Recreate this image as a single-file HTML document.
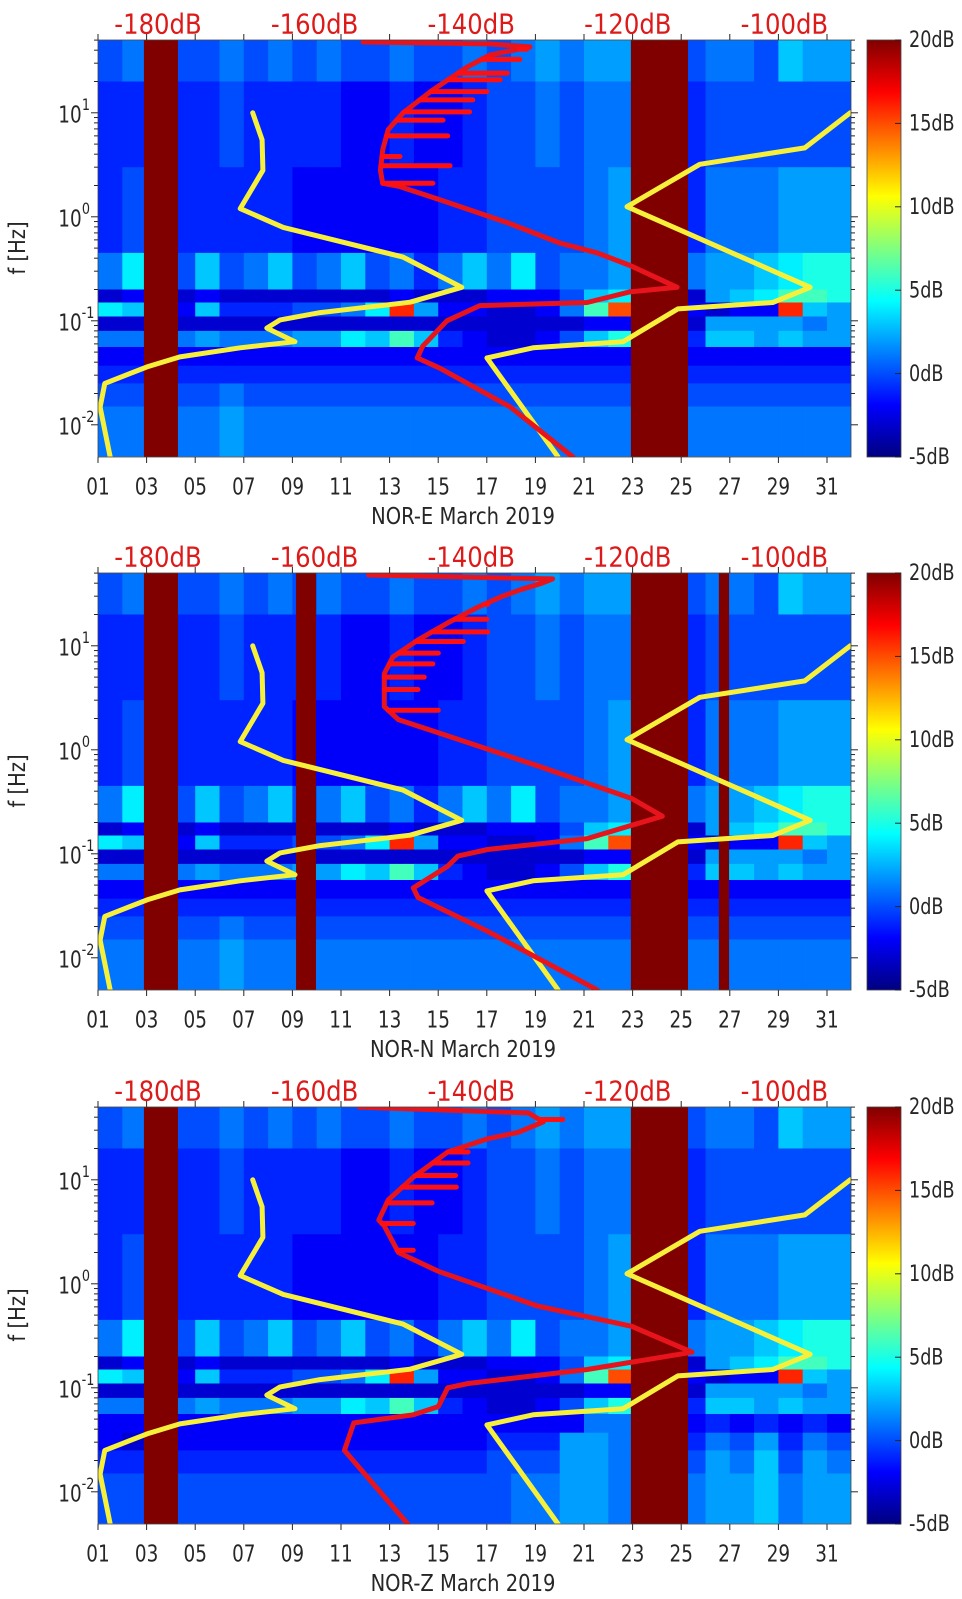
<!DOCTYPE html>
<html><head><meta charset="utf-8">
<style>
html,body{margin:0;padding:0;background:#fff;}
svg{display:block;}
text{font-family:"DejaVu Sans","Liberation Sans",sans-serif;}
</style></head>
<body>
<svg id="fig" width="962" height="1599" viewBox="0 0 962 1599" xmlns="http://www.w3.org/2000/svg">
<defs>
<linearGradient id="jet" x1="0" y1="1" x2="0" y2="0">
<stop offset="0" stop-color="#000080"/><stop offset="0.125" stop-color="#0000ff"/>
<stop offset="0.375" stop-color="#00ffff"/><stop offset="0.625" stop-color="#ffff00"/>
<stop offset="0.875" stop-color="#ff0000"/><stop offset="1" stop-color="#800000"/>
</linearGradient>
</defs>
</svg>
<script>
// ---------- data ----------
const panelNames = ["NOR-E March 2019","NOR-N March 2019","NOR-Z March 2019"];
const dayTicks = ["01","03","05","07","09","11","13","15","17","19","21","23","25","27","29","31"];
const dbTicks = [-180,-160,-140,-120,-100];
const cbTicks = [20,15,10,5,0,-5];
const freqDecades = [-2,-1,0,1];
// frequency band edges (Hz), top to bottom
const bandEdges = [50,20,3,0.45,0.2,0.15,0.11,0.08,0.056,0.037,0.025,0.015,0.005];
// band values (dB) per day (day1..day31)
const rowA = [0,1,0,0,0,1,0,1,0,1,0,0,1,0,0,1,0,1,2,1,2,2,0,0,0,1,1,0,3,2,2];
const rowB = [-1,-1,-1,-1,-1,0,-1,-1,-1,-1,-2,-2,-1,-2,-2,-1,0,0,1,0,1,1,-1,-1,-1,0,0,0,0,0,0];
const rowC = [-1,0,-1,-1,-1,-1,-1,-1,-2,-2,-2,-2,-2,-2,-1,-1,0,0,0,0,1,2,-1,-1,-1,1,1,1,2,2,2];
const rowD = [1,4,0,0,3,0,1,3,0,1,3,0,1,-1,1,3,1,4,0,1,1,2,1,1,1,2,2,3,4,5,5];
const rowE = [-3,-2,-3,-3,-2,-3,-3,-3,-3,-3,-3,-3,-2,-3,-3,-3,-2,-2,-2,0,3,4,-3,-3,-3,2,3,4,6,6,5];
const rowF = [4,3,-2,-2,3,-1,-1,-1,0,0,1,4,16,2,-2,-2,-3,-3,-2,1,6,15,-2,-2,-2,-3,-2,-2,16,3,2];
const rowG = [-3,-3,-3,-3,-3,-3,-3,-3,-3,-3,-3,-3,-3,-3,-3,-3,-3,-3,-3,-3,-2,-2,-3,-3,-3,2,2,2,2,1,2];
const rowH = [1,1,1,1,2,1,1,1,2,2,4,3,6,3,-1,-2,-3,-3,-2,0,3,5,-1,-1,-1,3,3,2,3,2,2];
const rowI = [-2,-2,-2,-2,-2,-2,-2,-2,-2,-2,-2,-2,-2,-2,-2,-2,-2,-2,-2,-2,-2,-2,-2,-2,-2,-2,-2,-2,-2,-2,-2];
const rowJ = [-1,-1,-1,-1,-1,-1,-1,-1,-1,-1,-1,-1,-1,-1,-1,-1,-1,-1,-1,-1,-1,-1,-1,-1,-1,-1,-1,-1,-1,-1,-1];
const rowK = [0,0,0,0,0,1,0,0,0,0,0,0,0,0,0,0,0,0,0,0,0,0,0,0,0,0,0,0,0,0,0];
const rowL = [1,1,1,1,1,2,1,1,1,1,1,1,1,1,1,1,1,1,1,1,1,1,1,1,1,1,1,1,1,1,1];
// panel Z low-frequency rows differ
const rowIz = [-2,-2,-2,-2,-2,-2,-2,-2,-2,-2,-2,-2,-2,-2,-2,-2,-2,-2,-2,-2,1,1,-2,-2,-2,-1,-2,-1,-2,-1,-2];
const rowJz = [-2,-3,-2,-2,-2,-2,-2,-2,-2,-2,-2,-2,-2,-2,-2,-2,-1,-1,-1,2,2,1,-1,-1,-1,1,0,2,-1,1,0];
const rowKz = [-1,-1,-1,-1,-1,-1,-1,-1,-1,-1,-1,-1,-1,-1,-1,-1,0,0,0,2,2,1,0,0,0,2,1,3,0,2,1];
const rowLz = [0,0,0,0,0,0,0,0,0,0,0,0,0,0,0,0,0,1,1,2,2,1,1,1,1,2,2,3,1,2,2];
// data gaps (day start, day end) per panel
const gapsE = [[2.89,4.29],[22.93,25.28]];
const gapsN = [[2.89,4.29],[9.15,9.97],[22.93,25.28],[26.55,26.97]];
const gapsZ = [[2.89,4.29],[22.93,25.28]];
// Peterson low/high noise models (dB, Hz)
const nlnmDb = [-186.1,-187.4,-186.8,-181.4,-177.2,-169.5,-162.5,-166.1,-164.4,-159.3,-153.3,-147.8,-141.2,-148.7,-164.0,-169.5,-166.6,-166.7,-167.9];
const nlnmHz = [0.0049,0.0148,0.025,0.036,0.045,0.055,0.063,0.085,0.102,0.12,0.135,0.151,0.21,0.41,0.79,1.2,2.8,5.5,10];
const nhnmDb = [-128.9,-138.0,-132.1,-120.6,-113.6,-101.5,-96.7,-120.1,-110.8,-97.4,-91.6];
const nhnmHz = [0.0049,0.044,0.055,0.063,0.13,0.15,0.21,1.25,3.2,4.6,10];
// station median PSD (red) per panel
const redEDb = [-127.0,-135.0,-144.0,-146.9,-146.2,-143.1,-138.9,-125.2,-119.7,-113.7,-119.7,-123.9,-128.7,-135.4,-144.0,-149.1,-151.3,-151.6,-151.3,-150.6,-148.7,-144.9,-140.5,-137.6,-132.5,-137.6,-153.8];
const redEHz = [0.0049,0.0148,0.035,0.044,0.057,0.10,0.14,0.15,0.19,0.21,0.34,0.45,0.56,0.88,1.46,1.95,2.1,2.8,4.4,6.9,10,16.6,27.6,36,43,46,48];
const redNDb = [-123.9,-137.9,-146.8,-147.4,-143.0,-141.7,-137.9,-125.2,-115.6,-119.5,-131.5,-144.2,-149.3,-151.1,-151.1,-150.0,-146.8,-143.0,-139.1,-136.0,-133.5,-131.0,-129.6,-153.1];
const redNHz = [0.0049,0.018,0.038,0.047,0.076,0.095,0.11,0.14,0.23,0.34,0.70,1.46,1.95,2.6,5.4,7.8,11.4,16.6,23.6,30,35,40,44,48];
const redZDb = [-148.1,-156.2,-155.0,-147.4,-144.2,-143.0,-140.4,-125.2,-111.8,-119.5,-131.5,-144.2,-149.3,-151.1,-151.8,-150.6,-147.4,-143.0,-137.9,-134.0,-130.8,-132.7,-154.3];
const redZHz = [0.0049,0.025,0.046,0.055,0.066,0.10,0.11,0.15,0.22,0.39,0.61,1.32,2.0,3.6,4.1,6.4,10.6,18.5,24.8,28.6,36,44,50];
// horizontal spikes of the red bundle (Hz, end dB)
const spikeEHz = [3.8,3.1,2.1,8.5,10.2,13.3,20.8,24.1,32.6,41,6,16];
const spikeEDb = [-149.1,-142.7,-144.9,-143.6,-140.2,-139.8,-136.3,-135.4,-133.8,-132.9,-143,-138];
const spikeNHz = [2.4,3.8,6.7,8.5,13.6,25,5,11,18];
const spikeNDb = [-144.2,-146.8,-144.9,-144.2,-137.9,-137.9,-146,-141,-138];
const spikeZHz = [3.8,2.1,8.5,14.5,18.5,38,6,11];
const spikeZDb = [-147.4,-147.4,-141.9,-140.4,-140.4,-128.3,-145,-142];

// ---------- layout ----------
const NS = "http://www.w3.org/2000/svg";
const svg = document.getElementById("fig");
const L = 98, R = 851, H = 417;
const tops = [40, 573, 1107];
const xDay = d => L + (d - 1) * 24.3;
const xDb = v => 158 + (v + 180) * 7.83;
const yF = (top, f) => top + (1.70 - Math.log10(f)) * 104;

function jet(v) {
  let t = Math.max(0, Math.min(1, (v + 5) / 25));
  let r, g, b;
  if (t < 0.125) { r = 0; g = 0; b = 0.5 + 4 * t; }
  else if (t < 0.375) { r = 0; g = 4 * (t - 0.125); b = 1; }
  else if (t < 0.625) { r = 4 * (t - 0.375); g = 1; b = 1 - 4 * (t - 0.375); }
  else if (t < 0.875) { r = 1; g = 1 - 4 * (t - 0.625); b = 0; }
  else { r = 1 - 4 * (t - 0.875) * 0.5; g = 0; b = 0; }
  return `rgb(${Math.round(r*255)},${Math.round(g*255)},${Math.round(b*255)})`;
}
function mk(tag, attrs, parent) {
  const e = document.createElementNS(NS, tag);
  for (const k in attrs) e.setAttribute(k, attrs[k]);
  (parent || svg).appendChild(e);
  return e;
}
function txt(s, x, y, size, color, anchor, sx, parent) {
  const t = mk("text", {x: 0, y: 0, "font-size": size, fill: color, "text-anchor": anchor,
    "dominant-baseline": "central", transform: `translate(${x},${y}) scale(${sx},1)`}, parent);
  t.textContent = s;
  return t;
}
function line(dbs, hzs, top, color, w, g, name) {
  const pts = dbs.map((v, i) => xDb(v).toFixed(1) + "," + yF(top, hzs[i]).toFixed(1)).join(" ");
  const p = mk("polyline", {points: pts, fill: "none", stroke: color, "stroke-width": w,
    "stroke-linejoin": "round", "stroke-linecap": "round"}, g);
  
  
  return p;
}
function dbAt(dbs, hzs, f) {
  const lf = Math.log10(f);
  for (let i = hzs.length - 1; i > 0; i--) {
    const a = Math.log10(hzs[i - 1]), b = Math.log10(hzs[i]);
    if ((lf - a) * (lf - b) <= 0 && a !== b) return dbs[i - 1] + (dbs[i] - dbs[i - 1]) * (lf - a) / (b - a);
  }
  return dbs[dbs.length - 1];
}

const rowsStd = [rowA,rowB,rowC,rowD,rowE,rowF,rowG,rowH,rowI,rowJ,rowK,rowL];
const rowsZ = [rowA,rowB,rowC,rowD,rowE,rowF,rowG,rowH,rowIz,rowJz,rowKz,rowLz];
const panelRows = [rowsStd, rowsStd, rowsZ];
const panelGaps = [gapsE, gapsN, gapsZ];
const panelRed = [[redEDb, redEHz], [redNDb, redNHz], [redZDb, redZHz]];
const panelSpk = [[spikeEHz, spikeEDb], [spikeNHz, spikeNDb], [spikeZHz, spikeZDb]];
const panelKeys = ["e", "n", "z"];

tops.forEach((top, pi) => {
  const g = mk("g", {});
  
  
  const clipId = "clip" + pi;
  const cp = mk("clipPath", {id: clipId}, g);
  mk("rect", {x: L, y: top, width: R - L, height: H}, cp);
  const plot = mk("g", {"clip-path": `url(#${clipId})`}, g);
  
  
  panelRows[pi].forEach((row, ri) => {
    const y0 = yF(top, bandEdges[ri]), y1 = yF(top, bandEdges[ri + 1]);
    row.forEach((v, di) => {
      const c = mk("rect", {x: xDay(di + 1).toFixed(1), y: y0.toFixed(1), width: 24.8, height: (y1 - y0 + 0.5).toFixed(1), fill: jet(v)}, plot);
      
      
    });
  });
  panelGaps[pi].forEach(gp => {
    const r = mk("rect", {x: xDay(gp[0]), y: top, width: xDay(gp[1]) - xDay(gp[0]), height: H, fill: "#800000"}, plot);
    
    
  });
  line(nlnmDb, nlnmHz, top, "#f7f03a", 5, plot, "nlnm-line");
  line(nhnmDb, nhnmHz, top, "#f7f03a", 5, plot, "nhnm-line");
  const rd = panelRed[pi];
  line(rd[0], rd[1], top, "#e8141c", 5, plot, "median-psd-line");
  const sp = panelSpk[pi];
  sp[0].forEach((f, i) => {
    const y = yF(top, f);
    const s = mk("line", {x1: xDb(dbAt(rd[0], rd[1], f)), x2: xDb(sp[1][i]), y1: y, y2: y, stroke: "#ff1010", "stroke-width": 5, "stroke-linecap": "round"}, plot);
    
    
  });
  const fr = mk("rect", {x: L, y: top, width: R - L, height: H, fill: "none", stroke: "#444", "stroke-width": 0.8}, g);
  
  
  dayTicks.forEach(lbl => {
    const x = xDay(parseInt(lbl, 10));
    mk("line", {x1: x, x2: x, y1: top + H, y2: top + H + 6, stroke: "#262626", "stroke-width": 1}, g);
    mk("line", {x1: x, x2: x, y1: top, y2: top - 6, stroke: "#262626", "stroke-width": 1}, g);
    const t = txt(lbl, x, top + H + 30, 23, "#262626", "middle", 0.8, g);
    
    
  });
  dbTicks.forEach(v => {
    const t = txt(v + "dB", xDb(v), top - 15, 28, "#dd1a1a", "middle", 0.87, g);
    
    
  });
  freqDecades.forEach(d => {
    for (let m = 1; m <= 9; m++) {
      const f = m * Math.pow(10, d);
      const y = yF(top, f);
      if (y < top - 0.5 || y > top + H + 0.5) continue;
      const len = m === 1 ? 7 : 4;
      mk("line", {x1: L, x2: L - len, y1: y, y2: y, stroke: "#262626", "stroke-width": 1}, g);
      mk("line", {x1: R, x2: R + len, y1: y, y2: y, stroke: "#262626", "stroke-width": 1}, g);
    }
    const y = yF(top, Math.pow(10, d));
    const base = txt("10", 70, y + 2, 23, "#262626", "middle", 0.8, g);
    
    
    const sup = txt(String(d), d < 0 ? 88 : 86, y - 7, 16, "#262626", "middle", 0.8, g);
    
    
  });
  const yt = mk("text", {x: 0, y: 0, "font-size": 23, fill: "#262626", "text-anchor": "middle", "dominant-baseline": "central",
    transform: `translate(18,${top + 208}) rotate(-90) scale(0.85,1)`}, g);
  yt.textContent = "f [Hz]";
  
  
  const xt = txt(panelNames[pi], 463, top + H + 60, 23, "#262626", "middle", 0.85, g);
  
  
  const cb = mk("rect", {x: 867, y: top, width: 34, height: H, fill: "url(#jet)", stroke: "#444", "stroke-width": 0.8}, g);
  
  
  cbTicks.forEach(v => {
    const y = top + H - (v + 5) / 25 * H;
    mk("line", {x1: 895, x2: 901, y1: y, y2: y, stroke: "#262626", "stroke-width": 1}, g);
    const t = txt(v + "dB", 909, y, 22, "#262626", "start", 0.8, g);
    
    
  });
});
</script>
</body></html>
